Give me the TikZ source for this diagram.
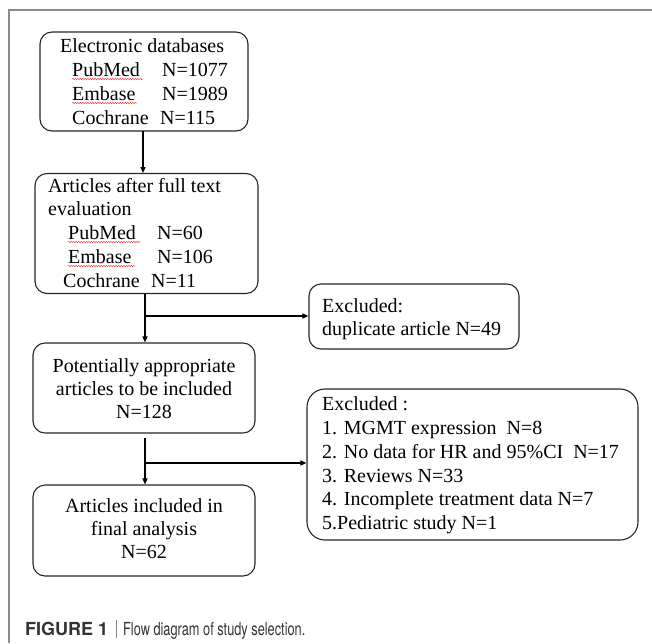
\documentclass[tikz,border=0pt]{standalone}
\usepackage{fontspec}
\setmainfont{Liberation Serif}
\newfontfamily\capfont{TeX Gyre Heros}
\usetikzlibrary{arrows.meta,decorations.pathmorphing}
\begin{document}
\begin{tikzpicture}[x=1pt,y=-1pt,
  box/.style={draw=black!85, line width=1.1pt, rounded corners=12pt, inner sep=0pt},
  arr/.style={draw=black, line width=1.4pt, -{Triangle[length=6pt,width=5pt]}},
  tl/.style={anchor=base west, inner sep=0pt, font=\fontsize{20}{24}\selectfont},
  tc/.style={anchor=base, inner sep=0pt, font=\fontsize{20}{24}\selectfont},
  squig/.style={draw=red!75, line width=0.5pt, decorate, decoration={snake, amplitude=0.7pt, segment length=2.5pt}},
  frame/.style={draw=black!45, line width=1.5pt}]
\useasboundingbox (0,0) rectangle (652,643);
% outer frame
\coordinate (fbl) at (9,643);
\coordinate (ftl) at (9,10);
\coordinate (ftr) at (652,10);
\draw[frame] (fbl) -- (ftl) -- (ftr);

% boxes
\node[box, minimum width=208pt, minimum height=99pt] (b1) at (144,81.5) {};
\node[box, minimum width=223pt, minimum height=120pt] (b2) at (146.5,233.5) {};
\node[box, minimum width=222pt, minimum height=90pt] (b3) at (144,388) {};
\node[box, minimum width=222pt, minimum height=91pt] (b5) at (144,530.5) {};
\node[box, minimum width=210pt, minimum height=65pt] (dup) at (414,316.5) {};
\node[box, rounded corners=18pt, minimum width=331pt, minimum height=151pt] (ex) at (472.5,464.5) {};

% box 1 text
\node[tl] (t11) at (60,52) {Electronic databases};
\node[tl] (t12) at (72,76) {PubMed};
\node[tl] (t12n) at (162,76) {N=1077};
\node[tl] (t13) at (72,100) {Embase};
\node[tl] (t13n) at (162,100) {N=1989};
\node[tl] (t14) at (72,124) {Cochrane};
\node[tl] (t14n) at (160,124) {N=115};
\draw[squig] (72,79) -- (143,79);
\draw[squig] (72,103) -- (137,103);

% box 2 text
\node[tl] (t21) at (48,192) {Articles after full text};
\node[tl] (t22) at (48,215) {evaluation};
\node[tl] (t23) at (68,239) {PubMed};
\node[tl] (t23n) at (157,239) {N=60};
\node[tl] (t24) at (68,263) {Embase};
\node[tl] (t24n) at (157,263) {N=106};
\node[tl] (t25) at (63,287) {Cochrane};
\node[tl] (t25n) at (151,287) {N=11};
\draw[squig] (68,242) -- (140,242);
\draw[squig] (68,266) -- (135,266);

% box 3 text
\node[tc] (t31) at (144,372) {Potentially appropriate};
\node[tc] (t32) at (144,395) {articles to be included};
\node[tc] (t33) at (144,418) {N=128};

% box 5 text
\node[tc] (t51) at (144,512) {Articles included in};
\node[tc] (t52) at (144,535) {final analysis};
\node[tc] (t53) at (144,558) {N=62};

% duplicate box text
\node[tl] (td1) at (322,312) {Excluded:};
\node[tl] (td2) at (322,335) {duplicate article N=49};

% exclusion box text
\node[tl] (te1) at (322,410) {Excluded :};
\node[tl] (te2) at (322,434) {1. MGMT expression\ \ N=8};
\node[tl] (te3) at (322,458) {2. No data for HR and 95\%CI\ \ N=17};
\node[tl] (te4) at (322,482) {3. Reviews N=33};
\node[tl] (te5) at (322,505) {4. Incomplete treatment data N=7};
\node[tl] (te6) at (322,529) {5.Pediatric study N=1};

% connectors
\draw[arr] (143,131) coordinate (a1s) -- (143,173) coordinate (a1e);
\coordinate (j1) at (145,316);
\draw[arr] (b2.south -| j1) -- (b3.north -| j1);
\draw[arr] (j1) -- (dup.west |- j1);
\coordinate (j2) at (145,463);
\draw[arr] (145,438) coordinate (a3s) -- (b5.north -| j2);
\draw[arr] (j2) -- (ex.west |- j2);

% caption
\node[anchor=base west, inner sep=0pt, text=black!80, font=\capfont\fontsize{18}{20}\selectfont] (cap) at (25,635)
  {\textbf{FIGURE 1}\hspace{8pt}{\color{black!50}\rule[-3pt]{0.9pt}{18pt}}\hspace{6pt}\scalebox{0.71}[1]{Flow diagram of study selection.}};
\end{tikzpicture}
\end{document}
